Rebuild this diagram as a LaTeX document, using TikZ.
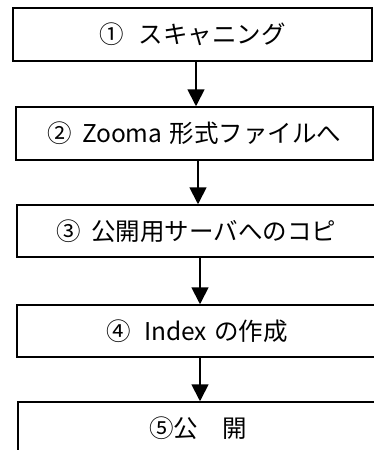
\documentclass[tikz,border=0pt]{standalone}
\usepackage{fontspec}
\newfontfamily\jp{Noto Sans CJK JP}
\usetikzlibrary{arrows.meta}
\begin{document}
\begin{tikzpicture}[x=1pt,y=-1pt,
  stepbox/.style={draw, line width=1.5pt, inner sep=0pt, fill=white,
    font=\jp\fontsize{24.5}{28}\selectfont},
  arr/.style={line width=1.8pt, -{Triangle[width=17pt,length=17pt]}}]
\useasboundingbox (0,0) rectangle (374,450);
\clip (0,0) rectangle (374,450);
\node[stepbox, minimum width=359pt, minimum height=53pt] (b1) at (192.5,34.5) {①\hspace{0.6em}スキャニング};
\node[stepbox, minimum width=357pt, minimum height=53pt] (b2) at (194.5,133.5) {②\hspace{0.4em}Zooma\hspace{0.3em}形式ファイルへ};
\node[stepbox, minimum width=359pt, minimum height=52pt] (b3) at (196.5,231) {③\hspace{0.4em}公開用サーバへのコピ};
\node[stepbox, minimum width=360pt, minimum height=52pt] (b4) at (197,331) {④\hspace{0.55em}Index\hspace{0.3em}の作成};
\node[stepbox, minimum width=360pt, minimum height=53pt] (b5) at (198,428.5) {⑤公　開};
\draw[arr] ([xshift=3.5pt]b1.south) -- ([xshift=3.5pt]b1.south |- b2.north);
\draw[arr] ([xshift=3.5pt]b2.south) -- ([xshift=3.5pt]b2.south |- b3.north);
\draw[arr] ([xshift=3.5pt]b3.south) -- ([xshift=3.5pt]b3.south |- b4.north);
\draw[arr] ([xshift=3pt]b4.south) -- ([xshift=3pt]b4.south |- b5.north);
\end{tikzpicture}
\end{document}
